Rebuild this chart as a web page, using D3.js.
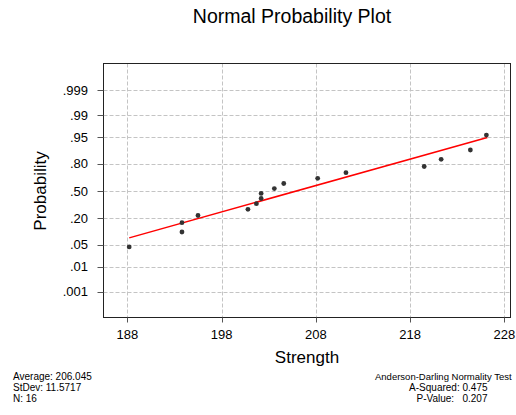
<!DOCTYPE html>
<html>
<head>
<meta charset="utf-8">
<script src="https://cdn.jsdelivr.net/npm/d3@7"></script>
<style>
  body { margin: 0; background: #fff; }
  text { font-family: "Liberation Sans", Arial, sans-serif; fill: #000; }
</style>
</head>
<body>
<div id="chart"></div>
<script>
// data
var strength = [188.2, 193.8, 193.8, 195.5, 200.8, 201.7, 202.2, 202.2,
                203.6, 204.6, 208.2, 211.2, 219.5, 221.3, 224.4, 226.1];
var probability = [0.043, 0.104, 0.165, 0.226, 0.287, 0.348, 0.409, 0.470,
                   0.530, 0.591, 0.652, 0.713, 0.774, 0.835, 0.896, 0.957];
var fitStrength = [188.2, 226.2];
var fitProbability = [0.075, 0.95];
var xTicks = [188, 198, 208, 218, 228];
var yTicks = [0.001, 0.01, 0.05, 0.20, 0.50, 0.80, 0.95, 0.99, 0.999];
var yTickLabels = [".001", ".01", ".05", ".20", ".50", ".80", ".95", ".99", ".999"];
var statsLeft = ["Average: 206.045", "StDev: 11.5717", "N: 16"];
var statsRight = ["A-Squared: 0.475", "P-Value:   0.207"];

// inverse normal cdf (Acklam) for the probability axis
function probit(p) {
    var a = [-39.69683028665376, 220.9460984245205, -275.9285104469687,
             138.3577518672690, -30.66479806614716, 2.506628277459239];
    var b = [-54.47609879822406, 161.5858368580409, -155.6989798598866,
             66.80131188771972, -13.28068155288572];
    var c = [-0.007784894002430293, -0.3223964580411365, -2.400758277161838,
             -2.549732539343734, 4.374664141464968, 2.938163982698783];
    var d = [0.007784695709041462, 0.3224671290700398, 2.445134137142996,
             3.754408661907416];
    var q, r;
    if (p < 0.02425) {
        q = Math.sqrt(-2 * Math.log(p));
        return (((((c[0]*q+c[1])*q+c[2])*q+c[3])*q+c[4])*q+c[5]) /
               ((((d[0]*q+d[1])*q+d[2])*q+d[3])*q+1);
    }
    if (p > 1 - 0.02425) {
        q = Math.sqrt(-2 * Math.log(1 - p));
        return -(((((c[0]*q+c[1])*q+c[2])*q+c[3])*q+c[4])*q+c[5]) /
                ((((d[0]*q+d[1])*q+d[2])*q+d[3])*q+1);
    }
    q = p - 0.5;
    r = q * q;
    return (((((a[0]*r+a[1])*r+a[2])*r+a[3])*r+a[4])*r+a[5])*q /
           (((((b[0]*r+b[1])*r+b[2])*r+b[3])*r+b[4])*r+1);
}

var width = 516;
var height = 415;
var frame = {left: 103.5, right: 510.5, top: 63.5, bottom: 317.5};

var svg = d3.select("#chart").append("svg")
    .attr("width", width)
    .attr("height", height);

var x = d3.scaleLinear()
    .domain([188, 228])
    .range([127.3, 504.3]);

var z = d3.scaleLinear()
    .domain([-3.9, 3.9])
    .range([318, 64]);

var y = function(p) { return z(probit(p)); };

// grid
svg.append("g").selectAll("line")
    .data(xTicks)
    .join("line")
        .attr("x1", function(d) { return Math.round(x(d)) + 0.5; })
        .attr("x2", function(d) { return Math.round(x(d)) + 0.5; })
        .attr("y1", frame.top)
        .attr("y2", frame.bottom)
        .attr("stroke", "#c4c4c4")
        .attr("stroke-dasharray", "4,2");

svg.append("g").selectAll("line")
    .data(yTicks)
    .join("line")
        .attr("x1", frame.left)
        .attr("x2", frame.right)
        .attr("y1", function(d) { return Math.round(y(d)) + 0.5; })
        .attr("y2", function(d) { return Math.round(y(d)) + 0.5; })
        .attr("stroke", "#c4c4c4")
        .attr("stroke-dasharray", "4,2");

// frame
svg.append("rect")
    .attr("x", frame.left)
    .attr("y", frame.top)
    .attr("width", frame.right - frame.left)
    .attr("height", frame.bottom - frame.top)
    .attr("fill", "none")
    .attr("stroke", "#222")
    .attr("stroke-width", 1);

// ticks and tick labels
svg.append("g").selectAll("line")
    .data(yTicks)
    .join("line")
        .attr("x1", frame.left - 6)
        .attr("x2", frame.left)
        .attr("y1", function(d) { return Math.round(y(d)) + 0.5; })
        .attr("y2", function(d) { return Math.round(y(d)) + 0.5; })
        .attr("stroke", "#555");

svg.append("g").selectAll("text")
    .data(yTicks)
    .join("text")
        .attr("x", 88)
        .attr("y", function(d) { return y(d) + 4.6; })
        .attr("text-anchor", "end")
        .style("font-size", "13px")
        .text(function(d, i) { return yTickLabels[i]; });

svg.append("g").selectAll("line")
    .data(xTicks)
    .join("line")
        .attr("x1", function(d) { return Math.round(x(d)) + 0.5; })
        .attr("x2", function(d) { return Math.round(x(d)) + 0.5; })
        .attr("y1", frame.bottom)
        .attr("y2", frame.bottom + 5)
        .attr("stroke", "#555");

svg.append("g").selectAll("text")
    .data(xTicks)
    .join("text")
        .attr("x", function(d) { return x(d); })
        .attr("y", 339)
        .attr("text-anchor", "middle")
        .style("font-size", "13px")
        .text(function(d) { return d; });

// fitted line
var fit = fitStrength.map(function(s, i) { return {x: s, p: fitProbability[i]}; });
svg.append("path")
    .datum(fit)
    .attr("fill", "none")
    .attr("stroke", "#ff0000")
    .attr("stroke-width", 1.5)
    .attr("d", d3.line()
        .x(function(d) { return x(d.x); })
        .y(function(d) { return y(d.p); }));

// points
svg.append("g").selectAll("circle")
    .data(strength)
    .join("circle")
        .attr("cx", function(d) { return x(d); })
        .attr("cy", function(d, i) { return y(probability[i]); })
        .attr("r", 2.4)
        .attr("fill", "#333");

// titles
svg.append("text")
    .attr("x", 292)
    .attr("y", 23)
    .attr("text-anchor", "middle")
    .style("font-size", "19.5px")
    .text("Normal Probability Plot");

svg.append("text")
    .attr("x", (frame.left + frame.right) / 2)
    .attr("y", 362.5)
    .attr("text-anchor", "middle")
    .style("font-size", "17px")
    .text("Strength");

svg.append("text")
    .attr("transform", "translate(45.5," + z(0) + ") rotate(-90)")
    .attr("text-anchor", "middle")
    .style("font-size", "17px")
    .text("Probability");

// stats blocks
svg.append("g").selectAll("text")
    .data(statsLeft)
    .join("text")
        .attr("x", 13)
        .attr("y", function(d, i) { return 380 + i * 11; })
        .style("font-size", "10px")
        .text(function(d) { return d; });

svg.append("text")
    .attr("x", 375)
    .attr("y", 380)
    .style("font-size", "9.5px")
    .text("Anderson-Darling Normality Test");

svg.append("g").selectAll("text")
    .data(statsRight)
    .join("text")
        .attr("x", 487.5)
        .attr("y", function(d, i) { return 391 + i * 11; })
        .attr("text-anchor", "end")
        .style("font-size", "10px")
        .style("white-space", "pre")
        .text(function(d) { return d; });
</script>
</body>
</html>
